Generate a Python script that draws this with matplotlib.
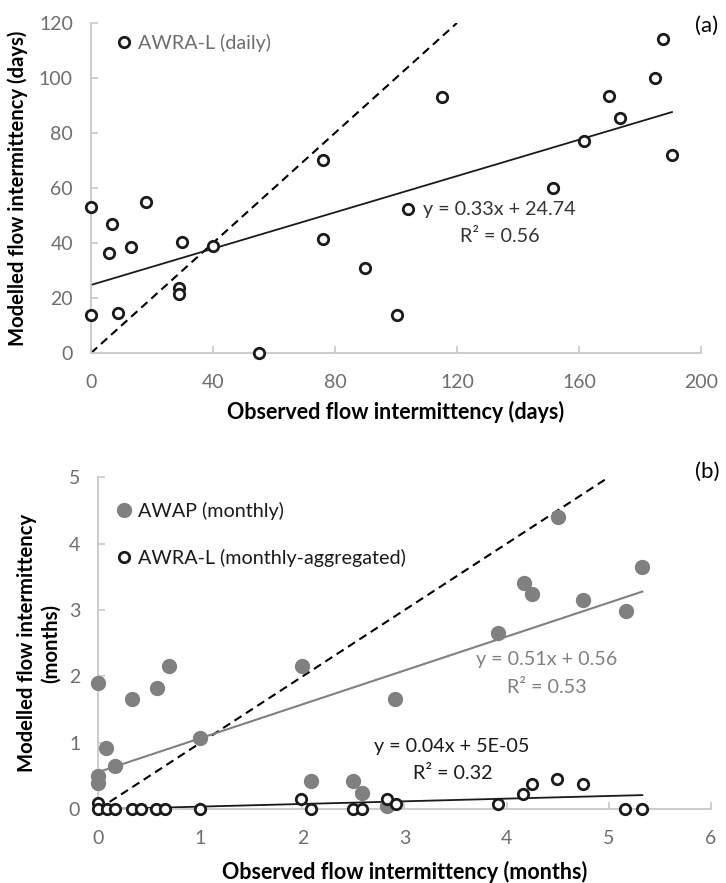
import matplotlib.pyplot as plt
import numpy as np

plt.rcParams['font.family'] = ['Lato', 'DejaVu Sans']

# ---- data ----
# (a) daily intermittency, days
daily_obs = [0, 0, 6, 7, 9, 13, 18, 29, 29, 30, 40, 55, 76, 76, 90, 100.5,
             104, 115, 151.5, 161.5, 170, 173.5, 185, 187.5, 190.5]
daily_mod = [53, 14, 36.5, 47, 14.5, 38.5, 55, 23.5, 21.5, 40.5, 39, 0, 70,
             41.5, 31, 14, 52.5, 93, 60, 77, 93.5, 85.5, 100, 114, 72]
daily_fit = (0.33, 24.74, 0.56)

# (b) monthly intermittency, months
awap_obs = [0, 0, 0, 0.08, 0.16, 0.33, 0.58, 0.69, 1.0, 2.0, 2.08, 2.5, 2.58,
            2.83, 2.91, 3.92, 4.17, 4.25, 4.5, 4.75, 5.17, 5.33]
awap_mod = [1.9, 0.5, 0.4, 0.92, 0.65, 1.66, 1.82, 2.16, 1.08, 2.16, 0.42,
            0.42, 0.25, 0.05, 1.66, 2.66, 3.41, 3.24, 4.4, 3.15, 2.99, 3.65]
awap_fit = (0.51, 0.56, 0.53)

awra_obs = [0, 0, 0.09, 0.16, 0.33, 0.42, 0.57, 0.65, 1.0, 1.99, 2.08, 2.5,
            2.58, 2.83, 2.92, 3.92, 4.16, 4.25, 4.49, 4.75, 5.16, 5.33]
awra_mod = [0.09, 0, 0, 0, 0, 0, 0, 0, 0, 0.155, 0, 0, 0, 0.155, 0.08, 0.075,
            0.23, 0.38, 0.45, 0.38, 0, 0]
awra_fit = (0.04, 5e-05, 0.32)

GREY = '#808080'
TICK = '#6e6e6e'
SPINE = '#c8c8c8'
FS = 14.2      # annotation / legend size
FS_TICK = 14
FS_LAB = 15.5


def style_axes(ax):
    for s in ['top', 'right']:
        ax.spines[s].set_visible(False)
    for s in ['left', 'bottom']:
        ax.spines[s].set_color(SPINE)
        ax.spines[s].set_linewidth(1.3)
    ax.tick_params(direction='in', length=5, width=1.2, color=SPINE,
                   labelcolor=TICK, labelsize=FS_TICK)
    ax.tick_params(axis='x', pad=15)
    ax.tick_params(axis='y', pad=13)


fig = plt.figure(figsize=(7.26, 8.83), dpi=100)

# ---- panel (a) ----
ax1 = fig.add_axes([0.1253, 0.6002, 0.8402, 0.3738])
style_axes(ax1)
ax1.plot([0, 120], [0, 120], ls=(0, (4, 2.5)), color='black', lw=1.5, zorder=2)
xf = np.array([0, max(daily_obs)])
ax1.plot(xf, daily_fit[0] * xf + daily_fit[1], color='#1a1a1a', lw=1.3, zorder=2)
ax1.plot(daily_obs, daily_mod, 'o', ms=7.5, mfc='white', mec='#1a1a1a',
         mew=2, clip_on=False, zorder=3, label='AWRA-L (daily)')
ax1.set_xlim(0, 200)
ax1.set_ylim(0, 120)
ax1.set_xticks(range(0, 201, 40))
ax1.set_yticks(range(0, 121, 20))
ax1.set_xlabel('Observed flow intermittency (days)', fontsize=FS_LAB,
               fontweight='bold', labelpad=7)
ax1.set_ylabel('Modelled flow intermittency (days)', fontsize=14.6,
               fontweight='bold', labelpad=8)
ax1.text(134, 52, f'y = {daily_fit[0]:.2f}x + {daily_fit[1]:.2f}', fontsize=FS,
         color='#333333', ha='center', va='center')
ax1.text(134, 42.2, f'R² = {daily_fit[2]:.2f}', fontsize=FS,
         color='#333333', ha='center', va='center')
ax1.text(1.01, 0.99, '(a)', transform=ax1.transAxes, fontsize=16,
         ha='center', va='center')
ax1.legend(loc='upper left', bbox_to_anchor=(0.012, 1.01), frameon=False,
           fontsize=FS, labelcolor=TICK, handletextpad=0.1,
           handlelength=1.2, borderaxespad=0.3)

# ---- panel (b) ----
ax2 = fig.add_axes([0.1354, 0.0835, 0.8435, 0.376])
style_axes(ax2)
ax2.plot([0, 5], [0, 5], ls=(0, (4, 2.5)), color='black', lw=1.5, zorder=2)
xa = np.array([0, max(awap_obs)])
ax2.plot(xa, awap_fit[0] * xa + awap_fit[1], color=GREY, lw=1.5, zorder=2)
xw = np.array([0, max(awra_obs)])
ax2.plot(xw, awra_fit[0] * xw + awra_fit[1], color='#1a1a1a', lw=1.3, zorder=2)
ax2.plot(awap_obs, awap_mod, 'o', ms=10, color=GREY, clip_on=False,
         zorder=3, label='AWAP (monthly)')
ax2.plot(awra_obs, awra_mod, 'o', ms=7.5, mfc='white', mec='#1a1a1a',
         mew=2, clip_on=False, zorder=4, label='AWRA-L (monthly-aggregated)')
ax2.set_xlim(0, 6)
ax2.set_ylim(0, 5)
ax2.set_xticks(range(0, 7))
ax2.set_yticks(range(0, 6))
ax2.set_xlabel('Observed flow intermittency (months)', fontsize=FS_LAB,
               fontweight='bold', labelpad=10)
ax2.set_ylabel('Modelled flow intermittency\n(months)', fontsize=14.6,
               fontweight='bold', labelpad=6)
ax2.text(4.39, 2.25, f'y = {awap_fit[0]:.2f}x + {awap_fit[1]:.2f}',
         fontsize=FS, color=GREY, ha='center', va='center')
ax2.text(4.39, 1.84, f'R² = {awap_fit[2]:.2f}', fontsize=FS, color=GREY,
         ha='center', va='center')
ax2.text(3.46, 0.95, f'y = {awra_fit[0]:.2f}x + 5E-05', fontsize=FS,
         color='#1a1a1a', ha='center', va='center')
ax2.text(3.47, 0.54, f'R² = {awra_fit[2]:.2f}', fontsize=FS,
         color='#1a1a1a', ha='center', va='center')
ax2.text(0.995, 1.015, '(b)', transform=ax2.transAxes, fontsize=16,
         ha='center', va='center')
ax2.legend(loc='upper left', bbox_to_anchor=(0.0, 0.967), frameon=False,
           fontsize=FS, labelcolor=['#1a1a1a', '#1a1a1a'], handletextpad=0.1,
           handlelength=1.2, labelspacing=1.45, borderaxespad=0.3)

fig.savefig('out.png', dpi=100)
